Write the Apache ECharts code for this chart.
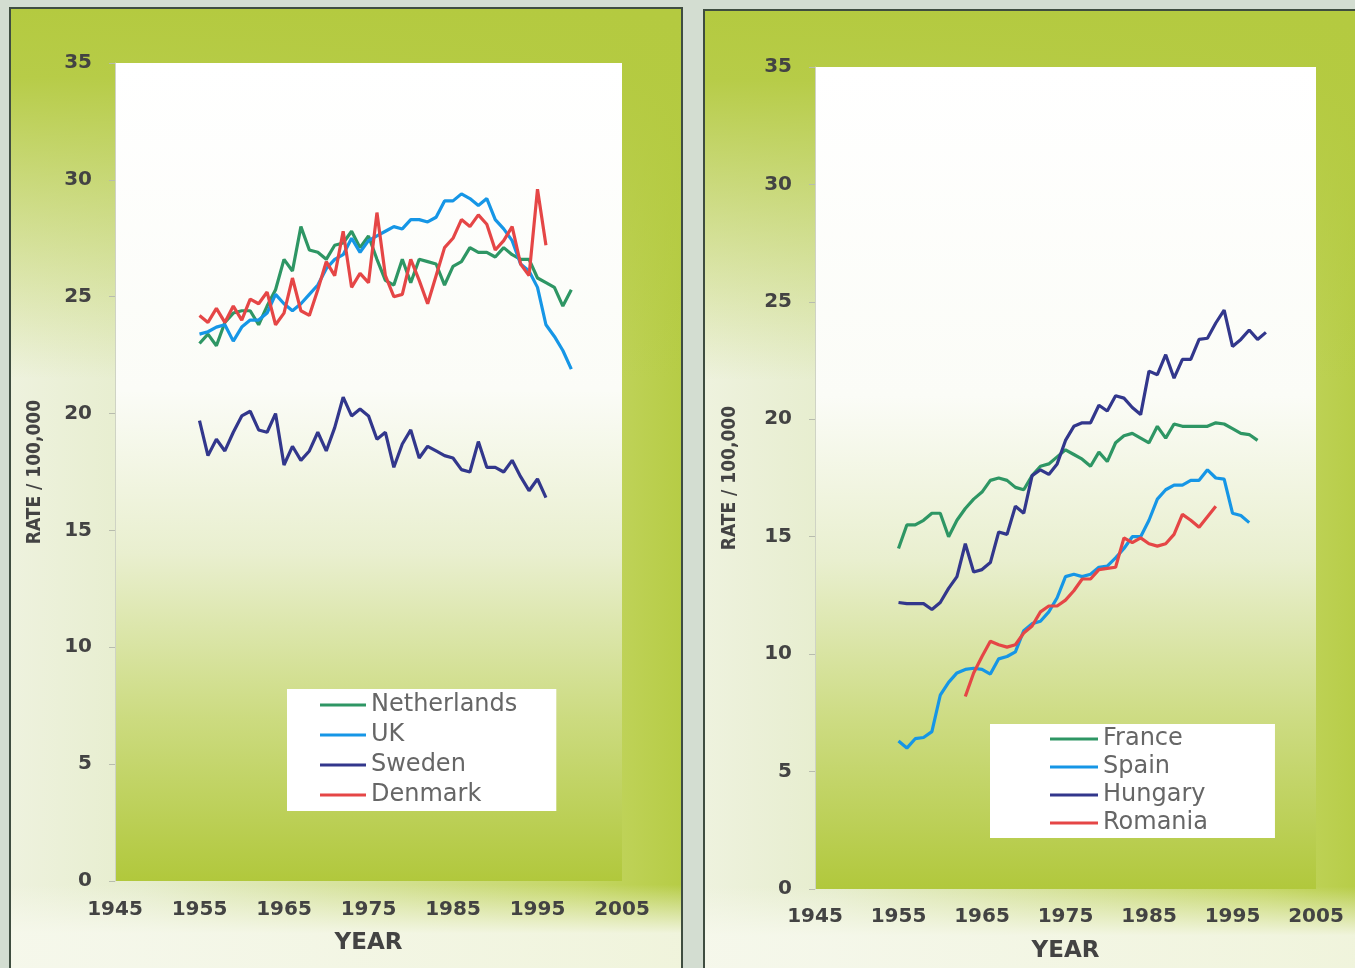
<!DOCTYPE html>
<html>
<head>
<meta charset="utf-8">
<script src="https://cdn.jsdelivr.net/npm/echarts@6/dist/echarts.min.js"></script>
<style>
html, body { margin: 0; padding: 0; background: #d3ddd1; }
#chart { width: 1355px; height: 968px; }
</style>
</head>
<body>
<div id="chart"></div>
<script>
// years shared by all series (missing years are null)
const years = [1955, 1956, 1957, 1958, 1959, 1960, 1961, 1962, 1963, 1964,
  1965, 1966, 1967, 1968, 1969, 1970, 1971, 1972, 1973, 1974,
  1975, 1976, 1977, 1978, 1979, 1980, 1981, 1982, 1983, 1984,
  1985, 1986, 1987, 1988, 1989, 1990, 1991, 1992, 1993, 1994,
  1995, 1996, 1997, 1998, 1999]
const xTicks = [1945, 1955, 1965, 1975, 1985, 1995, 2005]
const yTicks = [0, 5, 10, 15, 20, 25, 30, 35]

// left panel
const netherlands = [23.0, 23.4, 22.9, 23.9, 24.3, 24.4, 24.4, 23.8, 24.6, 25.3,
  26.6, 26.1, 28.0, 27.0, 26.9, 26.6, 27.2, 27.3, 27.8, 27.1,
  27.6, 26.6, 25.7, 25.5, 26.6, 25.6, 26.6, 26.5, 26.4, 25.5,
  26.3, 26.5, 27.1, 26.9, 26.9, 26.7, 27.1, 26.8, 26.6, 26.6,
  25.8, 25.6, 25.4, 24.6, 25.3]
const uk = [23.4, 23.5, 23.7, 23.8, 23.1, 23.7, 24.0, 24.0, 24.3, 25.1,
  24.7, 24.4, 24.7, 25.1, 25.5, 26.2, 26.6, 26.8, 27.5, 26.9,
  27.4, 27.6, 27.8, 28.0, 27.9, 28.3, 28.3, 28.2, 28.4, 29.1,
  29.1, 29.4, 29.2, 28.9, 29.2, 28.3, 27.9, 27.4, 26.4, 26.1,
  25.4, 23.8, 23.3, 22.7, 21.9]
const sweden = [19.7, 18.2, 18.9, 18.4, 19.2, 19.9, 20.1, 19.3, 19.2, 20.0,
  17.8, 18.6, 18.0, 18.4, 19.2, 18.4, 19.4, 20.7, 19.9, 20.2,
  19.9, 18.9, 19.2, 17.7, 18.7, 19.3, 18.1, 18.6, 18.4, 18.2,
  18.1, 17.6, 17.5, 18.8, 17.7, 17.7, 17.5, 18.0, 17.3, 16.7,
  17.2, 16.4, null, null, null]
const denmark = [24.2, 23.9, 24.5, 23.9, 24.6, 24.0, 24.9, 24.7, 25.2, 23.8,
  24.3, 25.8, 24.4, 24.2, 25.3, 26.5, 25.9, 27.8, 25.4, 26.0,
  25.6, 28.6, 25.9, 25.0, 25.1, 26.6, 25.7, 24.7, 25.9, 27.1,
  27.5, 28.3, 28.0, 28.5, 28.1, 27.0, 27.4, 28.0, 26.4, 25.9,
  29.6, 27.2, null, null, null]

// right panel
const france = [14.5, 15.5, 15.5, 15.7, 16.0, 16.0, 15.0, 15.7, 16.2, 16.6,
  16.9, 17.4, 17.5, 17.4, 17.1, 17.0, 17.6, 18.0, 18.1, 18.4,
  18.7, 18.5, 18.3, 18.0, 18.6, 18.2, 19.0, 19.3, 19.4, 19.2,
  19.0, 19.7, 19.2, 19.8, 19.7, 19.7, 19.7, 19.7, 19.85, 19.8,
  19.6, 19.4, 19.35, 19.1, null]
const spain = [6.3, 6.0, 6.4, 6.45, 6.7, 8.25, 8.8, 9.2, 9.35, 9.4,
  9.35, 9.15, 9.8, 9.9, 10.1, 11.0, 11.3, 11.4, 11.8, 12.4,
  13.3, 13.4, 13.3, 13.4, 13.7, 13.75, 14.1, 14.5, 15.0, 15.0,
  15.7, 16.6, 17.0, 17.2, 17.2, 17.4, 17.4, 17.85, 17.5, 17.45,
  16.0, 15.9, 15.6, null, null]
const hungary = [12.2, 12.15, 12.15, 12.15, 11.9, 12.2, 12.8, 13.3, 14.7, 13.5,
  13.6, 13.9, 15.2, 15.1, 16.3, 16.0, 17.6, 17.85, 17.65, 18.1,
  19.1, 19.7, 19.85, 19.85, 20.6, 20.35, 21.0, 20.9, 20.5, 20.2,
  22.05, 21.9, 22.75, 21.75, 22.55, 22.55, 23.4, 23.45, 24.1, 24.65,
  23.1, 23.4, 23.8, 23.4, 23.7]
const romania = [null, null, null, null, null, null, null, null, 8.2, 9.2,
  9.9, 10.55, 10.4, 10.3, 10.4, 10.9, 11.2, 11.8, 12.05, 12.05,
  12.3, 12.7, 13.2, 13.2, 13.6, 13.65, 13.7, 14.95, 14.75, 14.95,
  14.7, 14.6, 14.7, 15.1, 15.95, 15.7, 15.4, 15.85, 16.3, null,
  null, null, null, null, null]

const GREEN = '#2e9664'
const BLUE = '#1696e6'
const NAVY = '#32378c'
const RED = '#e54646'

function pairs(vals) {
  return years.map((y, i) => [y, vals[i]]).filter(p => p[1] !== null)
}

var labelFont = { fontFamily: 'DejaVu Sans', fontWeight: 'bold', fontSize: 20, color: '#434343' }

function makeX(idx, margin) {
  return {
    gridIndex: idx, type: 'value', min: 1945, max: 2005, interval: 5,
    name: 'YEAR', nameLocation: 'middle', nameGap: 51,
    nameTextStyle: { fontFamily: 'DejaVu Sans', fontWeight: 'bold', fontSize: 23, color: '#434343' },
    axisLabel: Object.assign({ margin: margin, formatter: v => xTicks.includes(v) ? String(v) : '' }, labelFont),
    axisLine: { show: false },
    axisTick: { show: false },
    splitLine: { show: false },
  }
}
function makeY(idx, gap) {
  return {
    gridIndex: idx, type: 'value', min: 0, max: 35, interval: 5,
    name: 'RATE / 100,000', nameLocation: 'middle', nameGap: gap, nameRotate: 90,
    nameTextStyle: { fontFamily: 'Liberation Sans Narrow, DejaVu Sans Condensed, sans-serif', fontWeight: 'bold', fontSize: 19, color: '#434343' },
    axisLabel: Object.assign({ margin: 23, formatter: v => yTicks.includes(v) ? String(v) : '' }, labelFont),
    axisLine: { show: true, lineStyle: { color: '#cfd3c4', width: 1 } },
    axisTick: { show: true, length: 6, lineStyle: { color: '#b8bcae' } },
    splitLine: { show: false },
  }
}
function makeLine(name, vals, color, idx) {
  return {
    name: name, type: 'line', xAxisIndex: idx, yAxisIndex: idx,
    data: pairs(vals), symbol: 'none', showSymbol: false,
    lineStyle: { width: 3.2, color: color }, itemStyle: { color: color },
  }
}

var plotBg = new echarts.graphic.LinearGradient(0, 0, 0, 1, [
  { offset: 0, color: '#ffffff' },
  { offset: 0.4, color: '#fbfcf7' },
  { offset: 0.6, color: '#e9efcf' },
  { offset: 0.8, color: '#ccdb80' },
  { offset: 1, color: '#b1c83c' },
])

function panel(x, y, w, h) {
  return [
    {
      type: 'rect', z: -10, shape: { x: x, y: y, width: w, height: h },
      style: {
        fill: new echarts.graphic.LinearGradient(0, 0, 1, 0, [
          { offset: 0, color: '#eef2de' },
          { offset: 0.2, color: '#e6edcd' },
          { offset: 0.85, color: '#c4d664' },
          { offset: 1, color: '#b6cc45' },
        ]),
        stroke: '#3f4d40', lineWidth: 2,
      },
    },
    {
      type: 'rect', z: -9, shape: { x: x + 1, y: y + 1, width: w - 2, height: h - 2 },
      style: {
        fill: new echarts.graphic.LinearGradient(0, 0, 0, 1, [
          { offset: 0, color: 'rgba(180,202,64,1)' },
          { offset: 0.07, color: 'rgba(180,202,64,0.95)' },
          { offset: 0.38, color: 'rgba(180,202,64,0)' },
          { offset: 0.9, color: 'rgba(246,248,236,0)' },
          { offset: 0.95, color: 'rgba(246,248,236,0.9)' },
          { offset: 1, color: 'rgba(246,248,236,0.9)' },
        ]),
      },
    },
  ]
}

var myChart = echarts.init(document.getElementById('chart'))
var option = {
  animation: false,
  backgroundColor: '#d3ddd1',
  graphic: panel(10, 8, 672, 975).concat(panel(704, 10, 660, 975)),
  grid: [
    { left: 115, top: 63, width: 507, height: 818, show: true, backgroundColor: plotBg, borderWidth: 0 },
    { left: 815, top: 67, width: 501, height: 823, show: true, backgroundColor: plotBg, borderWidth: 0 },
  ],
  xAxis: [makeX(0, 19), makeX(1, 18)],
  yAxis: [makeY(0, 70), makeY(1, 75)],
  legend: [
    {
      data: ['Netherlands', 'UK', 'Sweden', 'Denmark'],
      orient: 'vertical', left: 287, top: 689,
      padding: [4, 39, 4, 33], itemGap: 6, itemWidth: 46, itemHeight: 3, icon: 'rect',
      backgroundColor: '#ffffff',
      textStyle: { fontFamily: 'DejaVu Sans', fontSize: 24, color: '#666666' },
    },
    {
      data: ['France', 'Spain', 'Hungary', 'Romania'],
      orient: 'vertical', left: 990, top: 724,
      padding: [3, 67, 3, 60], itemGap: 4, itemWidth: 48, itemHeight: 3, icon: 'rect',
      backgroundColor: '#ffffff',
      textStyle: { fontFamily: 'DejaVu Sans', fontSize: 24, color: '#666666' },
    },
  ],
  series: [
    makeLine('Netherlands', netherlands, GREEN, 0),
    makeLine('UK', uk, BLUE, 0),
    makeLine('Sweden', sweden, NAVY, 0),
    makeLine('Denmark', denmark, RED, 0),
    makeLine('France', france, GREEN, 1),
    makeLine('Spain', spain, BLUE, 1),
    makeLine('Hungary', hungary, NAVY, 1),
    makeLine('Romania', romania, RED, 1),
  ],
}
myChart.setOption(option)
</script>
</body>
</html>
